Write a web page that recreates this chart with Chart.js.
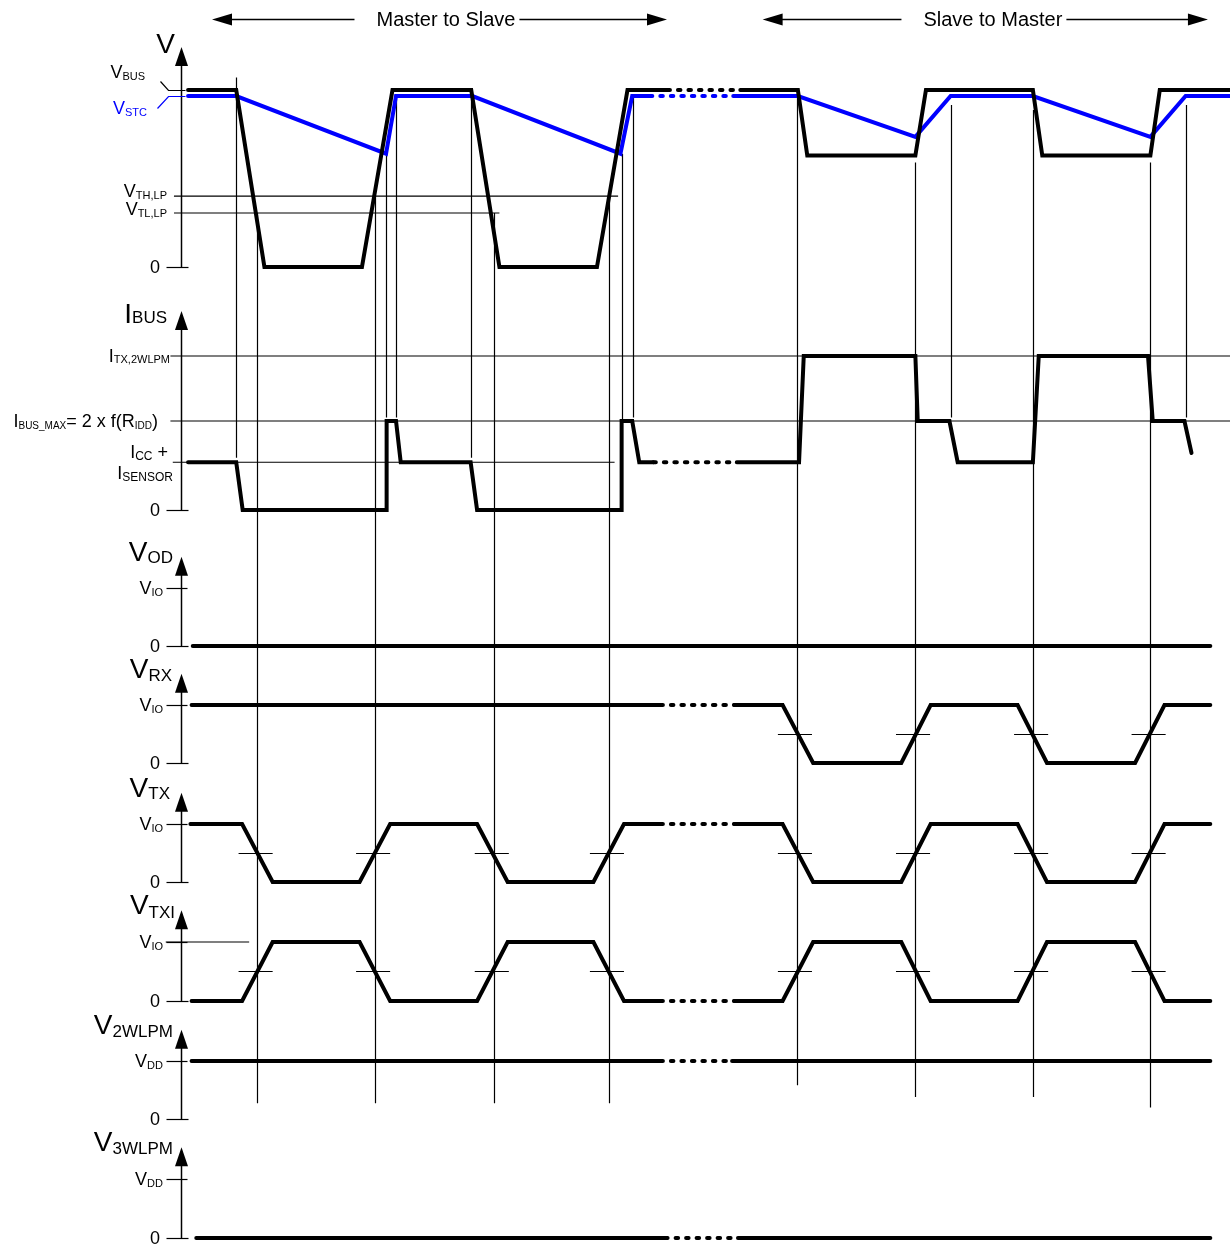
<!DOCTYPE html>
<html>
<head>
<meta charset="utf-8">
<script src="https://cdn.jsdelivr.net/npm/chart.js@4.4.0/dist/chart.umd.min.js"></script>
<style>
html, body { margin: 0; padding: 0; background: #fff; }
canvas { display: block; }
</style>
</head>
<body>
<canvas id="timingChart" width="1230" height="1247"></canvas>
<script>
// time: 10 units = one bit period, t = 0 on the vertical axes
// levels: normalised per trace (1 = VBUS / ITX,2WLPM / VIO / VDD)
var vbusT = [0.6, 4.7, 7.1, 15.4, 18.0, 24.7, 27.1, 35.4, 38.0, 41.4, 47.6, 52.5, 53.3, 62.5, 63.4, 72.5, 73.3, 82.5, 83.3, 89.3];
var vbusY = [1, 1, 0, 0, 1, 1, 0, 0, 1, 1, 1, 1, 0.63, 0.63, 1, 1, 0.63, 0.63, 1, 1];
var vstcT = [0.6, 4.7, 17.45, 18.3, 24.8, 37.4, 38.4, 39.9, 47.0, 52.5, 62.5, 65.5, 72.5, 82.5, 85.5, 89.3];
var vstcY = [0.966, 0.966, 0.64, 0.966, 0.966, 0.64, 0.966, 0.966, 0.966, 0.966, 0.735, 0.966, 0.966, 0.735, 0.966, 0.966];
var ibusT = [0.6, 4.7, 5.25, 17.5, 17.5, 18.3, 18.7, 24.65, 25.2, 37.5, 37.5, 38.4, 39.0, 40.2, 47.3, 52.6, 53.0, 62.5, 62.7, 65.4, 66.1, 72.5, 73.0, 82.3, 82.7, 85.4, 86.0];
var ibusY = [0.31, 0.31, 0, 0, 0.578, 0.578, 0.31, 0.31, 0, 0, 0.578, 0.578, 0.31, 0.31, 0.31, 0.31, 1, 1, 0.578, 0.578, 0.31, 0.31, 1, 1, 0.578, 0.578, 0.37];
var vodT = [1.0, 87.6];
var vodY = [0, 0];
var vrxT = [0.9, 40.8, 47.1, 51.2, 53.8, 61.3, 63.8, 71.2, 73.7, 81.2, 83.7, 87.6];
var vrxY = [1, 1, 1, 1, 0, 0, 1, 1, 0, 0, 1, 1];
var vtxT = [0.8, 5.2, 7.8, 15.2, 17.8, 25.2, 27.8, 35.1, 37.7, 40.8, 47.1, 51.2, 53.8, 61.3, 63.8, 71.2, 73.7, 81.2, 83.7, 87.6];
var vtxY = [1, 1, 0, 0, 1, 1, 0, 0, 1, 1, 1, 1, 0, 0, 1, 1, 0, 0, 1, 1];
var vtxiT = [0.9, 5.2, 7.8, 15.2, 17.8, 25.2, 27.8, 35.1, 37.7, 40.8, 47.1, 51.2, 53.8, 61.3, 63.8, 71.2, 73.7, 81.2, 83.7, 87.6];
var vtxiY = [0, 0, 1, 1, 0, 0, 1, 1, 0, 0, 0, 0, 1, 1, 0, 0, 1, 1, 0, 0];
var v2wT = [0.9, 40.8, 46.9, 87.6];
var v2wY = [1, 1, 1, 1];
var v3wT = [1.3, 41.2, 47.4, 87.6];
var v3wY = [0, 0, 0, 0];

// dotted "..." parts of each trace
var gapVbus = [41.4, 47.6];
var gapVstc = [39.9, 47.0];
var gapIbus = [40.2, 47.3];
var gapIo = [40.8, 47.1];
var gapV2w = [40.8, 46.9];
var gapV3w = [41.2, 47.4];

// reference levels
var vthLevel = 0.40;
var vtlLevel = 0.305;
var itxLevel = 1;
var imaxLevel = 0.578;
var iccLevel = 0.31;

// vertical guides: time, top (on V axis), bottom axis + level
var guideT = [4.7, 6.5, 16.5, 17.45, 18.3, 24.7, 26.6, 36.4, 37.5, 38.5, 52.4, 62.45, 65.5, 72.5, 82.5, 85.5];
var guideTop = [1.07, 0.305, 0.40, 0.64, 0.966, 0.99, 0.305, 0.40, 0.64, 0.966, 1.0, 0.59, 0.915, 0.887, 0.59, 0.915];
var guideEndAxis = ['pI', 'pW2', 'pW2', 'pI', 'pI', 'pI', 'pW2', 'pW2', 'pI', 'pI', 'pW2', 'pW2', 'pI', 'pW2', 'pW2', 'pI'];
var guideEnd = [0.34, 0.27, 0.27, 0.6, 0.6, 0.34, 0.27, 0.27, 0.578, 0.6, 0.58, 0.38, 0.6, 0.38, 0.2, 0.6];

// switching points with threshold marks
var edgesMS = [6.5, 16.5, 26.6, 36.4];
var edgesSM = [52.4, 62.45, 72.5, 82.5];

var directionText = ['Master to Slave', 'Slave to Master'];
var directionSpan = [[2.64, 41.36], [49.5, 87.4]];
var directionMid = [22.55, 69.1];

// layout: pixel row of level 0 and pixels per level unit
var panels = {
  pV: { zero: 267, unit: 177, tip: 1.243 },
  pI: { zero: 510, unit: 154, tip: 1.292 },
  pOD: { zero: 646, unit: 58, tip: 1.54 },
  pRX: { zero: 763, unit: 58, tip: 1.54 },
  pTX: { zero: 882, unit: 58, tip: 1.54 },
  pTXI: { zero: 1001, unit: 59, tip: 1.54 },
  pW2: { zero: 1119, unit: 58, tip: 1.54 },
  pW3: { zero: 1238, unit: 59, tip: 1.54 }
};
var W = 1230, H = 1247, axisPx = 181, pxPerUnit = 11.75;
var FONT = '"Liberation Sans", Arial, sans-serif';
var BLUE = '#0000ff';

function points(ts, ys) {
  return ts.map(function (t, i) { return { x: t, y: ys[i] }; });
}

function dotted(gap) {
  return function (ctx) {
    var a = ctx.p0.parsed.x, b = ctx.p1.parsed.x;
    return (a >= gap[0] - 0.01 && b <= gap[1] + 0.01) ? [2.5, 8] : undefined;
  };
}

function trace(label, ts, ys, axis, color, gap) {
  var ds = {
    label: label,
    data: points(ts, ys),
    yAxisID: axis,
    showLine: true,
    borderColor: color,
    borderWidth: 4,
    borderCapStyle: 'round',
    borderJoinStyle: 'miter',
    pointRadius: 0,
    tension: 0,
    order: 1
  };
  if (gap) ds.segment = { borderDash: dotted(gap) };
  return ds;
}

function refLine(label, t0, t1, level, axis) {
  return {
    label: label,
    data: points([t0, t1], [level, level]),
    yAxisID: axis,
    showLine: true,
    borderColor: '#000',
    borderWidth: 1.2,
    pointRadius: 0,
    order: 5
  };
}

var scales = {
  x: { type: 'linear', display: false, min: -axisPx / pxPerUnit, max: (W - axisPx) / pxPerUnit }
};
Object.keys(panels).forEach(function (id) {
  var p = panels[id];
  scales[id] = { type: 'linear', display: false, min: -(H - p.zero) / p.unit, max: p.zero / p.unit };
});

function line(ctx, x0, y0, x1, y1) {
  ctx.beginPath();
  ctx.moveTo(x0, y0);
  ctx.lineTo(x1, y1);
  ctx.stroke();
}

function lab(ctx, parts, right, base, color) {
  var w = 0;
  parts.forEach(function (p) {
    ctx.font = p[1] + 'px ' + FONT;
    w += ctx.measureText(p[0]).width;
  });
  var x = right - w;
  ctx.fillStyle = color || '#000';
  parts.forEach(function (p) {
    ctx.font = p[1] + 'px ' + FONT;
    ctx.fillText(p[0], x, base + (p[2] || 0));
    x += ctx.measureText(p[0]).width;
  });
}

var timingDecor = {
  id: 'timingDecor',
  beforeDatasetsDraw: function (chart) {
    var ctx = chart.ctx, sx = chart.scales.x;
    var ax = Math.round(sx.getPixelForValue(0)) + 0.5;
    ctx.save();
    ctx.strokeStyle = '#000';
    ctx.fillStyle = '#000';

    // vertical guide lines
    ctx.lineWidth = 1.2;
    guideT.forEach(function (t, i) {
      var px = Math.round(sx.getPixelForValue(t)) + 0.5;
      var y0 = chart.scales.pV.getPixelForValue(guideTop[i]);
      var y1 = chart.scales[guideEndAxis[i]].getPixelForValue(guideEnd[i]);
      line(ctx, px, y0, px, y1);
    });

    // threshold marks
    function marks(axis, edges) {
      var y = Math.round(chart.scales[axis].getPixelForValue(0.5)) + 0.5;
      edges.forEach(function (t) {
        line(ctx, sx.getPixelForValue(t - 1.6), y, sx.getPixelForValue(t + 1.3), y);
      });
    }
    marks('pRX', edgesSM);
    marks('pTX', edgesMS.concat(edgesSM));
    marks('pTXI', edgesMS.concat(edgesSM));

    // axes with arrows and ticks
    Object.keys(panels).forEach(function (id) {
      var s = chart.scales[id];
      var y0 = Math.round(s.getPixelForValue(0)) + 0.5;
      var yt = s.getPixelForValue(panels[id].tip);
      ctx.lineWidth = 1.5;
      line(ctx, ax, y0, ax, yt + 15);
      ctx.beginPath();
      ctx.moveTo(ax, yt);
      ctx.lineTo(ax - 6.5, yt + 19);
      ctx.lineTo(ax + 6.5, yt + 19);
      ctx.closePath();
      ctx.fill();
      ctx.lineWidth = 1.2;
      line(ctx, ax - 15, y0, ax + 7, y0);
      if (id !== 'pV' && id !== 'pI') {
        var y1 = Math.round(s.getPixelForValue(1)) + 0.5;
        line(ctx, ax - 15, y1, ax + 6, y1);
      }
    });

    // VBUS / VSTC leaders
    var sv = chart.scales.pV;
    var yb = Math.round(sv.getPixelForValue(1)) + 0.5;
    var ys = Math.round(sv.getPixelForValue(0.966)) + 0.5;
    ctx.lineWidth = 1.2;
    ctx.beginPath();
    ctx.moveTo(ax - 21, yb - 9);
    ctx.lineTo(ax - 13, yb);
    ctx.lineTo(ax + 4, yb);
    ctx.stroke();
    ctx.strokeStyle = BLUE;
    ctx.beginPath();
    ctx.moveTo(ax - 24, ys + 12);
    ctx.lineTo(ax - 13, ys);
    ctx.lineTo(ax + 4, ys);
    ctx.stroke();
    ctx.restore();
  },
  afterDraw: function (chart) {
    var ctx = chart.ctx, sx = chart.scales.x;
    var ax = sx.getPixelForValue(0);
    ctx.save();
    ctx.textBaseline = 'alphabetic';
    ctx.textAlign = 'left';
    function y(id, v) { return chart.scales[id].getPixelForValue(v); }
    function tip(id) { return y(id, panels[id].tip); }
    function zero(id) { lab(ctx, [['0', 18]], ax - 21, y(id, 0) + 6); }

    // V panel
    lab(ctx, [['V', 28]], ax - 6, tip('pV') + 6);
    lab(ctx, [['V', 18], ['BUS', 11, 2]], ax - 36, y('pV', 1) - 12);
    lab(ctx, [['V', 18], ['STC', 11, 2]], ax - 34, y('pV', 0.966) + 18, BLUE);
    lab(ctx, [['V', 18], ['TH,LP', 11, 2]], ax - 14, y('pV', vthLevel) + 1);
    lab(ctx, [['V', 18], ['TL,LP', 11, 2]], ax - 14, y('pV', vtlLevel) + 2);
    zero('pV');

    // IBUS panel
    lab(ctx, [['I', 28], ['BUS', 17, 0]], ax - 14, tip('pI') + 12);
    lab(ctx, [['I', 18], ['TX,2WLPM', 11, 1]], ax - 11, y('pI', itxLevel) + 6);
    lab(ctx, [['I', 18], ['BUS_MAX', 10, 2], ['= 2 x f(R', 18], ['IDD', 10, 2], [')', 18]], ax - 23, y('pI', imaxLevel) + 6);
    lab(ctx, [['I', 18], ['CC', 12, 2], [' +', 18]], ax - 13, y('pI', iccLevel) - 4);
    lab(ctx, [['I', 18], ['SENSOR', 12, 2]], ax - 8, y('pI', iccLevel) + 17);
    zero('pI');

    // logic panels
    var big = [
      ['pOD', 'OD', 2, 8], ['pRX', 'RX', 3, 9], ['pTX', 'TX', 2, 11],
      ['pTXI', 'TXI', 4, 6], ['pW2', '2WLPM', 3, 8], ['pW3', '3WLPM', 3, 8]
    ];
    big.forEach(function (b) {
      lab(ctx, [['V', 28], [b[1], 17, b[2]]], ax - b[3], tip(b[0]) + 4);
      var isDD = b[0] === 'pW2' || b[0] === 'pW3';
      lab(ctx, [['V', 18], [isDD ? 'DD' : 'IO', 11, 2]], ax - 18, y(b[0], 1) + 6);
      zero(b[0]);
    });

    // direction arrows at the top
    ctx.font = '20px ' + FONT;
    ctx.fillStyle = '#000';
    ctx.strokeStyle = '#000';
    ctx.lineWidth = 1.3;
    var ya = 19.5;
    directionText.forEach(function (txt, i) {
      var xm = sx.getPixelForValue(directionMid[i]);
      var tw = ctx.measureText(txt).width;
      var xl = sx.getPixelForValue(directionSpan[i][0]);
      var xr = sx.getPixelForValue(directionSpan[i][1]);
      ctx.fillText(txt, xm - tw / 2, 26);
      line(ctx, xl + 18, ya, xm - tw / 2 - 22, ya);
      line(ctx, xm + tw / 2 + 4, ya, xr - 18, ya);
      ctx.beginPath();
      ctx.moveTo(xl, ya);
      ctx.lineTo(xl + 20, ya - 6);
      ctx.lineTo(xl + 20, ya + 6);
      ctx.closePath();
      ctx.fill();
      ctx.beginPath();
      ctx.moveTo(xr, ya);
      ctx.lineTo(xr - 20, ya - 6);
      ctx.lineTo(xr - 20, ya + 6);
      ctx.closePath();
      ctx.fill();
    });
    ctx.restore();
  }
};

var timingChart = new Chart(document.getElementById('timingChart'), {
  type: 'scatter',
  data: {
    datasets: [
      trace('VBUS', vbusT, vbusY, 'pV', '#000', gapVbus),
      trace('VSTC', vstcT, vstcY, 'pV', BLUE, gapVstc),
      trace('IBUS', ibusT, ibusY, 'pI', '#000', gapIbus),
      trace('VOD', vodT, vodY, 'pOD', '#000'),
      trace('VRX', vrxT, vrxY, 'pRX', '#000', gapIo),
      trace('VTX', vtxT, vtxY, 'pTX', '#000', gapIo),
      trace('VTXI', vtxiT, vtxiY, 'pTXI', '#000', gapIo),
      trace('V2WLPM', v2wT, v2wY, 'pW2', '#000', gapV2w),
      trace('V3WLPM', v3wT, v3wY, 'pW3', '#000', gapV3w),
      refLine('VTH,LP', -0.6, 37.2, vthLevel, 'pV'),
      refLine('VTL,LP', -0.6, 27.1, vtlLevel, 'pV'),
      refLine('ITX,2WLPM', -0.9, 89.3, itxLevel, 'pI'),
      refLine('IBUS_MAX', -0.9, 89.3, imaxLevel, 'pI'),
      refLine('ICC+ISENSOR', -0.7, 36.9, iccLevel, 'pI'),
      refLine('VIO ref', -1.3, 5.8, 1, 'pTXI')
    ]
  },
  options: {
    responsive: false,
    animation: false,
    layout: { padding: 0 },
    scales: scales,
    plugins: {
      legend: { display: false },
      tooltip: { enabled: false }
    }
  },
  plugins: [timingDecor]
});
</script>
</body>
</html>
